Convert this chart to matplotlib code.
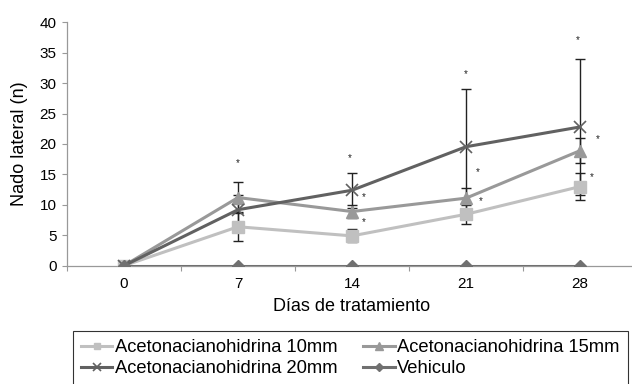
import matplotlib
matplotlib.use("Agg")
import matplotlib.pyplot as plt
import numpy as np

plt.rcParams['font.family'] = ['Liberation Sans', 'DejaVu Sans']

days = ["0", "7", "14", "21", "28"]
labels = ["Acetonacianohidrina 10mm", "Acetonacianohidrina 15mm",
          "Acetonacianohidrina 20mm", "Vehiculo"]
acn10 = [0, 6.4, 4.9, 8.45, 13.0]
acn15 = [0, 11.2, 8.9, 11.1, 18.9]
acn20 = [0, 9.2, 12.4, 19.55, 22.8]
vehiculo = [0, 0, 0, 0, 0]
err10 = [0, 2.35, 1.07, 1.6, 2.2]
err15 = [0, 2.6, 1.1, 1.7, 2.1]
err20 = [0, 2.5, 2.9, 9.45, 11.1]

# significance stars: (category index, x offset, y value)
star_idx = [1, 2, 2, 2, 3, 3, 3, 4, 4, 4]
star_dx = [0.0, -0.02, 0.1, 0.1, 0.0, 0.1, 0.13, -0.02, 0.16, 0.1]
star_y = [16.8, 17.65, 11.35, 7.2, 31.5, 15.45, 10.7, 37.0, 20.8, 14.6]

W, H = 632, 384
fig = plt.figure(figsize=(W / 100, H / 100), dpi=100)
ax = fig.add_axes([67 / W, 1 - 265.7 / H, (637 - 67) / W, 243.4 / H])

x = np.arange(len(days))
c10, c15, c20, cv = '#c0c0c0', '#999999', '#616161', '#707070'

for vals, errs in [(acn20, err20), (acn15, err15), (acn10, err10)]:
    ax.errorbar(x, vals, yerr=errs, fmt='none', ecolor='#222222', elinewidth=1,
                capsize=3.5, capthick=1, zorder=2)

h10, = ax.plot(x, acn10, color=c10, lw=2.2, marker='s', ms=8, zorder=3)
h15, = ax.plot(x, acn15, color=c15, lw=2.2, marker='^', ms=9, zorder=4)
h20, = ax.plot(x, acn20, color=c20, lw=2.2, marker='x', ms=9, mew=1.2, zorder=5)
hv, = ax.plot(x, vehiculo, color=cv, lw=2.2, marker='D', ms=6.5, zorder=6)

for i, dx, yv in zip(star_idx, star_dx, star_y):
    ax.text(i + dx, yv, '*', fontsize=7, ha='center', va='center', color='#222222')

ax.set_xlim(-0.5, 4.5)
ax.set_ylim(0, 40)
ax.set_yticks(np.arange(0, 41, 5))
ax.set_xticks(x)
ax.set_xticklabels(days)
ax.set_xticks(np.arange(-0.5, 4.6, 1), minor=True)
ax.tick_params(axis='x', which='major', length=0, pad=8, labelsize=11)
ax.tick_params(axis='x', which='minor', length=3.5, width=0.8, color='#999999', direction='out')
ax.tick_params(axis='y', length=3.5, width=0.8, color='#999999', pad=4, labelsize=11)

for s in ['top', 'right']:
    ax.spines[s].set_visible(False)
for s in ['left', 'bottom']:
    ax.spines[s].set_color('#999999')
    ax.spines[s].set_linewidth(0.9)

ax.set_ylabel('Nado lateral (n)', fontsize=13, labelpad=8)
ax.set_xlabel('Días de tratamiento', fontsize=13, labelpad=5)

leg = fig.legend([h10, h20, h15, hv], [labels[0], labels[2], labels[1], labels[3]],
                 ncol=2, loc='upper left',
                 bbox_to_anchor=(73 / W, 1 - 331 / H), bbox_transform=fig.transFigure,
                 fontsize=13.2, frameon=True, fancybox=False, edgecolor='black',
                 handlelength=1.7, handletextpad=0.15, columnspacing=1.4,
                 labelspacing=0.22, borderpad=0.45, borderaxespad=0, markerscale=0.6)
leg.get_frame().set_linewidth(0.8)

fig.savefig('out.png', dpi=100)
